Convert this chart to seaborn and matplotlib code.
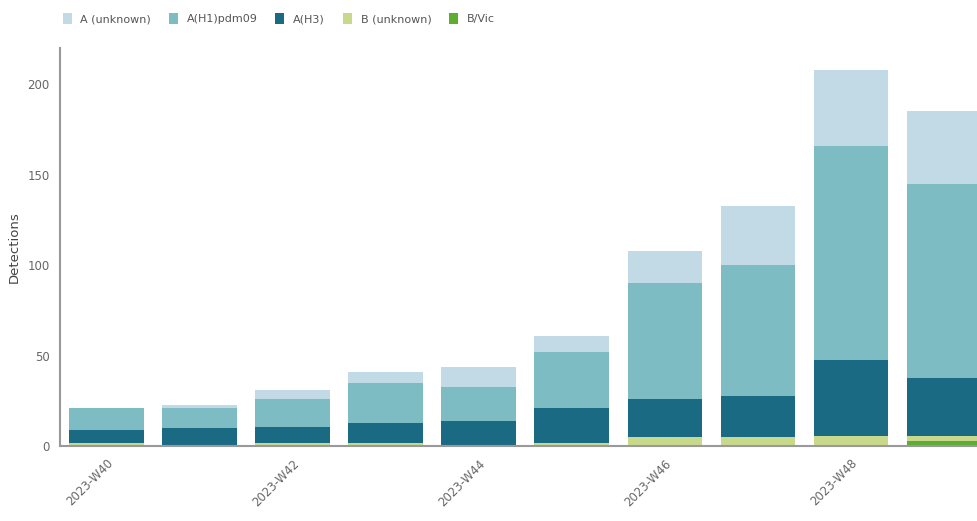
import seaborn as sns
import matplotlib.pyplot as plt
import numpy as np
import pandas as pd

weeks = ["2023-W40", "2023-W41", "2023-W42", "2023-W43", "2023-W44",
         "2023-W45", "2023-W46", "2023-W47", "2023-W48", "2023-W49"]

# detections per subtype, bottom of the stack first
b_vic = [0, 0, 1, 1, 1, 0, 1, 0, 1, 3]
b_unknown = [2, 0, 1, 1, 0, 2, 4, 5, 5, 3]
a_h3 = [7, 10, 9, 11, 13, 19, 21, 23, 42, 32]
a_h1 = [12, 11, 15, 22, 19, 31, 64, 72, 118, 107]
a_unknown = [0, 2, 5, 6, 11, 9, 18, 33, 42, 40]

series = ["B/Vic", "B (unknown)", "A(H3)", "A(H1)pdm09", "A (unknown)"]
values = [b_vic, b_unknown, a_h3, a_h1, a_unknown]
colors = ["#5cae32", "#c9d98b", "#1b6a84", "#7dbcc2", "#c2d9e6"]

sns.set_style("white")
plt.rcParams['font.family'] = ['DejaVu Sans']

fig = plt.figure(figsize=(9.78, 5.21), dpi=100)
ax = fig.add_axes([0.0613, 0.143, 0.94, 0.765])

# stacked bars: draw cumulative totals, tallest layer first
cum = np.cumsum(np.array(values), axis=0)
for i in reversed(range(len(series))):
    df = pd.DataFrame({"week": weeks, "total": cum[i]})
    sns.barplot(data=df, x="week", y="total", color=colors[i], width=0.8,
                saturation=1, linewidth=0, ax=ax, label=series[i])

ax.set_xlim(-0.5, 9.38)
ax.set_ylim(0, 220)
ax.set_yticks([0, 50, 100, 150, 200])
ax.set_xticks(range(0, 10, 2))
ax.set_xticklabels(weeks[::2], rotation=45, ha="right", rotation_mode="anchor")
ax.tick_params(axis="both", labelsize=8.5, colors="#999999", labelcolor="#666666",
               length=4, width=1)
ax.set_xlabel("")
ax.set_ylabel("Detections", fontsize=9.5, color="#444444", labelpad=5)

sns.despine(ax=ax)
for s in ["left", "bottom"]:
    ax.spines[s].set_color("#999999")
    ax.spines[s].set_linewidth(1.5)

handles, labels = ax.get_legend_handles_labels()
lookup = dict(zip(labels, handles))
ax.legend([lookup[s] for s in series[::-1]], series[::-1], loc="center left",
          bbox_to_anchor=(0.003, 1.073), ncol=5, frameon=False, fontsize=8,
          handlelength=0.8, handleheight=1.1, columnspacing=1.6,
          borderaxespad=0, borderpad=0, labelcolor="#555555",
          bbox_transform=ax.transAxes)

fig.savefig("out.png", dpi=100)
